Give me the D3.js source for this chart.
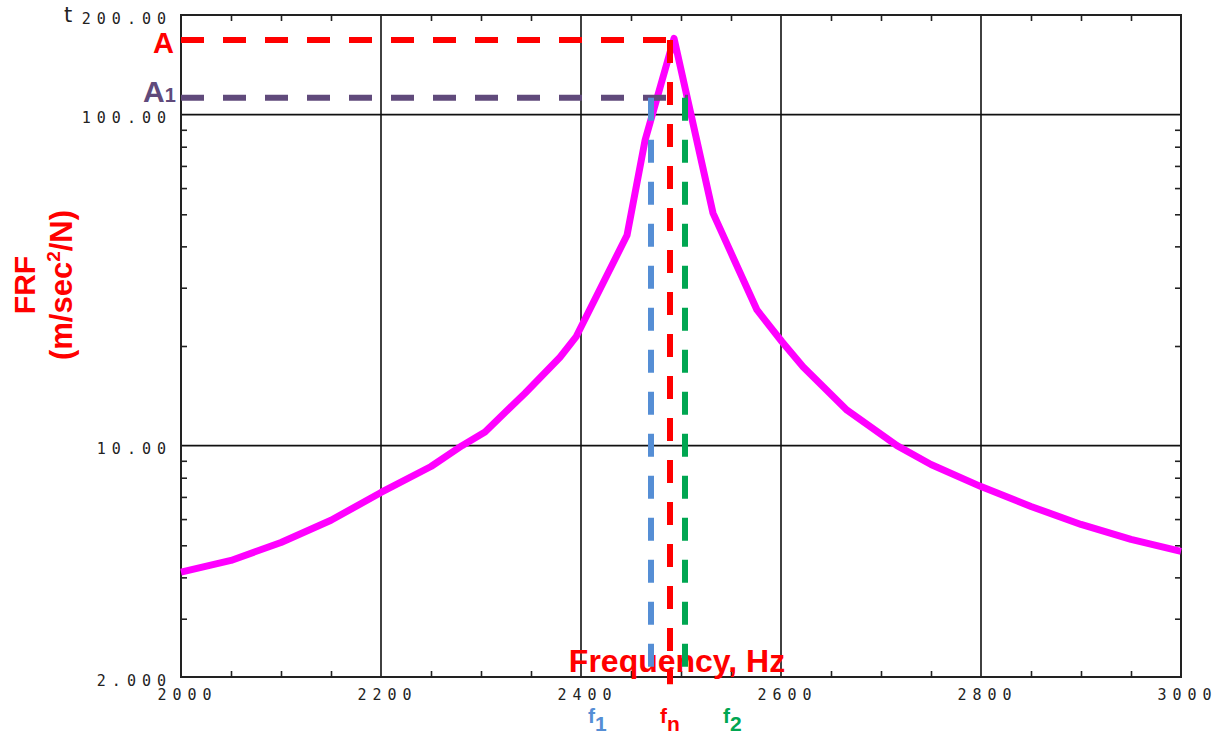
<!DOCTYPE html>
<html>
<head>
<meta charset="utf-8">
<script src="https://cdn.jsdelivr.net/npm/d3@7"></script>
<style>
    body { margin: 0; background: #fff; }
    .tick-label text { font-family: "DejaVu Sans Mono", monospace; font-size: 15px; fill: #222; letter-spacing: 6px; }
    .lbl { font-family: "Liberation Sans", Arial, sans-serif; font-weight: bold; }
</style>
</head>
<body>
<div id="chart"></div>
<script>
// FRF curve
const freq = [2000, 2050, 2100, 2150, 2200, 2250, 2281, 2304, 2344, 2379, 2395, 2446, 2464, 2493,
    2532, 2552, 2576, 2601, 2622, 2666, 2716, 2750, 2800, 2850, 2900, 2950, 3000];
const frf = [4.15, 4.5, 5.1, 5.95, 7.22, 8.65, 10.0, 11.0, 14.4, 18.5, 21.3, 43.2, 83.5, 170,
    50.4, 37.1, 25.7, 20.6, 17.3, 12.8, 10.0, 8.77, 7.52, 6.55, 5.78, 5.21, 4.79];

// half power markers
const ampA = 168, ampA1 = 112.5;
const f1 = 2470, fn = 2489, f2 = 2504;

// ticks
const xMajor = [2000, 2200, 2400, 2600, 2800, 3000];
const xLabels = ["2000", "2200", "2400", "2600", "2800", "3000"];
const xMinor = [2050, 2100, 2150, 2250, 2300, 2350, 2450, 2500, 2550, 2650, 2700, 2750, 2850, 2900, 2950];
const yMajor = [2, 10, 100, 200];
const yLabels = ["2.000", "10.00", "100.00", "200.00"];
const yMinor = [3, 4, 5, 6, 7, 8, 9, 20, 30, 40, 50, 60, 70, 80, 90];
const xGrid = [2200, 2400, 2600, 2800];
const yGrid = [10, 100];

const W = 1217, H = 734;
const margin = { left: 181, right: 1181, top: 15, bottom: 677 };

const x = d3.scaleLinear().domain([2000, 3000]).range([margin.left, margin.right]);
const y = d3.scaleLog().domain([2, 200]).range([margin.bottom, margin.top]);

const svg = d3.select("#chart").append("svg")
    .attr("width", W)
    .attr("height", H)
    .style("background", "#fff");

// grid
svg.append("g").selectAll("line")
    .data(xGrid)
    .enter().append("line")
    .attr("x1", d => x(d)).attr("x2", d => x(d))
    .attr("y1", margin.top).attr("y2", margin.bottom)
    .attr("stroke", "#111").attr("stroke-width", 1.6);

svg.append("g").selectAll("line")
    .data(yGrid)
    .enter().append("line")
    .attr("x1", margin.left).attr("x2", margin.right)
    .attr("y1", d => y(d)).attr("y2", d => y(d))
    .attr("stroke", "#111").attr("stroke-width", 1.6);

// minor ticks on all four sides, pointing inward
const minorAxes = [
    [d3.axisLeft(y).tickValues(yMinor), `translate(${margin.left},0)`],
    [d3.axisRight(y).tickValues(yMinor), `translate(${margin.right},0)`],
    [d3.axisBottom(x).tickValues(xMinor), `translate(0,${margin.bottom})`],
    [d3.axisTop(x).tickValues(xMinor), `translate(0,${margin.top})`]
];
minorAxes.forEach(([ax, tr]) => {
    const g = svg.append("g")
        .attr("transform", tr)
        .call(ax.tickSize(-6).tickFormat(""));
    g.select(".domain").remove();
    g.selectAll(".tick line").attr("stroke", "#222").attr("stroke-width", 1.6);
});

// frame
svg.append("rect")
    .attr("x", margin.left).attr("y", margin.top)
    .attr("width", margin.right - margin.left).attr("height", margin.bottom - margin.top)
    .attr("fill", "none").attr("stroke", "#222").attr("stroke-width", 2);

// tick labels
const yAxis = svg.append("g")
    .attr("class", "tick-label")
    .attr("transform", `translate(${margin.left},0)`)
    .call(d3.axisLeft(y).tickValues(yMajor).tickSize(0).tickPadding(9)
        .tickFormat((d, i) => yLabels[i]));
yAxis.select(".domain").remove();
yAxis.selectAll("text").attr("dy", "0.55em");

const xAxis = svg.append("g")
    .attr("class", "tick-label")
    .attr("transform", `translate(0,${margin.bottom})`)
    .call(d3.axisBottom(x).tickValues(xMajor).tickSize(0).tickPadding(12)
        .tickFormat((d, i) => xLabels[i]));
xAxis.select(".domain").remove();
xAxis.selectAll("text").attr("x", 6);

// stray glyph left of the top label
svg.append("text")
    .attr("x", 64).attr("y", 22)
    .style("font-family", "DejaVu Sans, sans-serif")
    .style("font-size", "21px")
    .style("fill", "#222")
    .text("t");

// axis titles
svg.append("text")
    .attr("class", "lbl")
    .attr("transform", "translate(35,285) rotate(-90)")
    .attr("text-anchor", "middle")
    .style("font-size", "30px")
    .style("fill", "#ff0000")
    .text("FRF");

const unit = svg.append("text")
    .attr("class", "lbl")
    .attr("transform", "translate(72,285) rotate(-90)")
    .attr("text-anchor", "middle")
    .style("font-size", "31px")
    .style("fill", "#ff0000");
unit.append("tspan").text("(m/sec");
unit.append("tspan").attr("dy", -12).style("font-size", "19px").text("2");
unit.append("tspan").attr("dy", 12).text("/N)");

svg.append("text")
    .attr("class", "lbl")
    .attr("x", 677).attr("y", 672)
    .attr("text-anchor", "middle")
    .style("font-size", "32px")
    .style("fill", "#ff0000")
    .text("Frequency, Hz");

// magnitude curve
const line = d3.line()
    .x((d, i) => x(freq[i]))
    .y(d => y(d));

svg.append("path")
    .datum(frf)
    .attr("d", line)
    .attr("fill", "none")
    .attr("stroke", "#ff00ff")
    .attr("stroke-width", 7)
    .attr("stroke-linejoin", "round");

// dashed marker lines
const dash = "23,19";
const markers = [
    { x1: 2000, x2: fn, y1: ampA, y2: ampA, c: "#ff0000", off: 3 },
    { x1: 2000, x2: f2, y1: ampA1, y2: ampA1, c: "#604a7b", off: 3 },
    { x1: f1, x2: f1, y1: ampA1, y2: 2, c: "#558ed5", off: 0 },
    { x1: f2, x2: f2, y1: ampA1, y2: 2, c: "#00a651", off: 0 },
    { x1: fn, x2: fn, y1: ampA, y2: 1.9, c: "#ff0000", off: 0 }
];
svg.append("g").selectAll("line")
    .data(markers)
    .enter().append("line")
    .attr("x1", d => x(d.x1))
    .attr("x2", d => x(d.x2) + d.off)
    .attr("y1", d => y(d.y1))
    .attr("y2", d => y(d.y2))
    .attr("stroke", d => d.c)
    .attr("stroke-width", 6)
    .attr("stroke-dasharray", dash);

// marker labels
svg.append("text")
    .attr("class", "lbl")
    .attr("x", 174).attr("y", 53)
    .attr("text-anchor", "end")
    .style("font-size", "29px")
    .style("fill", "#ff0000")
    .text("A");

const a1 = svg.append("text")
    .attr("class", "lbl")
    .attr("x", 143).attr("y", 102)
    .style("font-size", "30px")
    .style("fill", "#604a7b");
a1.append("tspan").text("A");
a1.append("tspan").style("font-size", "20px").text("1");

const fLabels = [
    { f: f1, s: "1", c: "#558ed5", dx: -63 },
    { f: fn, s: "n", c: "#ff0000", dx: -10 },
    { f: f2, s: "2", c: "#00a651", dx: 38 }
];
fLabels.forEach(d => {
    const t = svg.append("text")
        .attr("class", "lbl")
        .attr("x", x(d.f) + d.dx)
        .attr("y", 723)
        .style("font-size", "21px")
        .style("fill", d.c);
    t.append("tspan").text("f");
    t.append("tspan").attr("dy", 8).text(d.s);
});
</script>
</body>
</html>
